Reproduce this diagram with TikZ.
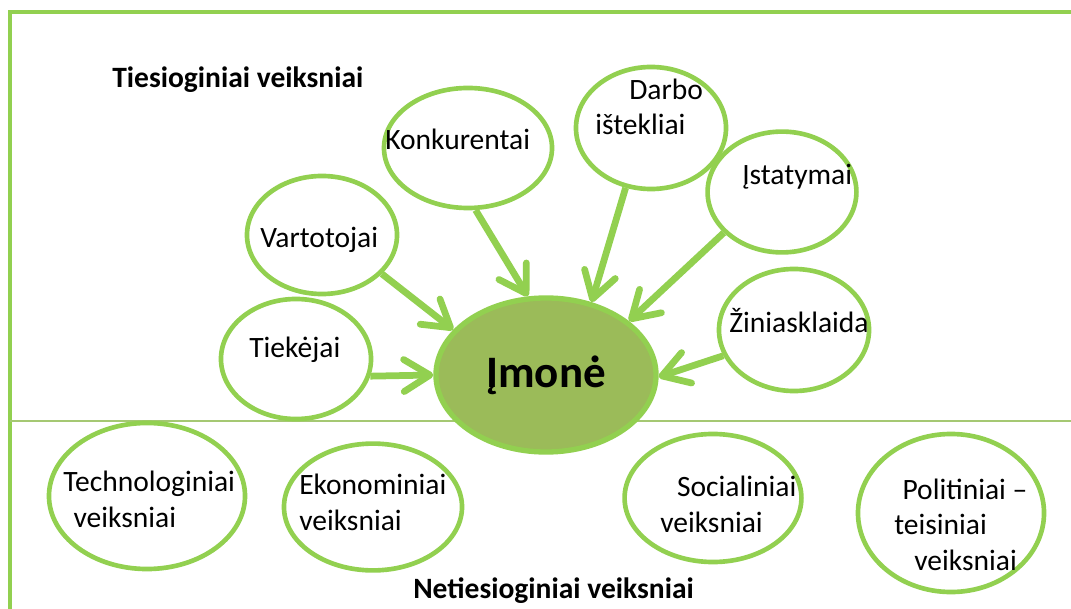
\documentclass[tikz,border=0pt]{standalone}
\usepackage{fontspec}
\setmainfont{Carlito}
\usetikzlibrary{arrows.meta,shapes.geometric}
\definecolor{ringGreen}{RGB}{146,208,80}
\definecolor{coreGreen}{RGB}{155,187,89}
\definecolor{splitGreen}{RGB}{165,200,115}

\begin{document}
\begin{tikzpicture}[
  x=0.025cm, y=-0.025cm,
  font=\fontsize{21}{25}\selectfont,
  frame/.style={draw=ringGreen, line width=2.8pt},
  split/.style={draw=splitGreen, line width=1.1pt},
  factor/.style={ellipse, draw=ringGreen, fill=white, line width=3.3pt, inner sep=0pt},
  core/.style={ellipse, draw=ringGreen, fill=coreGreen, line width=3.8pt, inner sep=0pt,
    minimum width=5.5cm, minimum height=3.85cm, font=\fontsize{32}{36}\selectfont\bfseries},
  lbl/.style={anchor=base west, align=left, inner sep=0pt},
  heading/.style={anchor=base west, inner sep=0pt, font=\fontsize{21}{25}\selectfont\bfseries},
  push/.style={draw=ringGreen, line width=4.8pt, -{Straight Barb[length=6.5mm, width=8mm, round]}}
]
\useasboundingbox (0,0) rectangle (1071,609);

% ------------------------------------------------------------------
% Frame and divider
% ------------------------------------------------------------------
\draw[frame] (10,609) -- (10,12) -- (1071,12);
\draw[split] (10,421) -- (1071,421);

% ------------------------------------------------------------------
% Direct factors
% ------------------------------------------------------------------
\node[heading] (hDirect) at (112,88) {Tiesioginiai veiksniai};

\node[factor, minimum width=3.75cm, minimum height=2.95cm] (vart) at (322,235) {};
\node[factor, minimum width=4.2cm, minimum height=3.0cm] (konk) at (468,148) {};
\node[factor, minimum width=3.75cm, minimum height=3.05cm] (darbo) at (651,128) {};
\node[factor, minimum width=3.72cm, minimum height=3.02cm] (istat) at (782,192) {};
\node[factor, minimum width=3.75cm, minimum height=3.05cm] (zinia) at (794,330) {};
\node[factor, minimum width=3.75cm, minimum height=3.0cm] (tiek) at (296,359) {};

\node[lbl] (tVart) at (260,248) {Vartotojai};
\node[lbl] (tKonk) at (385,150) {Konkurentai};
\node[lbl] (tDarbo) at (595,135) {\hspace*{1.15em}Darbo\\ištekliai};
\node[lbl] (tIstat) at (742,185) {Įstatymai};
\node[lbl] (tZinia) at (729,333) {Žiniasklaida};
\node[lbl] (tTiek) at (249,358) {Tiekėjai};

\node[core] (imone) at (546,375) {Įmonė};

\draw[push] (vart.-33) -- (imone.154);
\draw[push] (konk.-83) -- (imone.103);
\draw[push] (darbo.-113) -- (imone.58);
\draw[push] (istat.-145) -- (imone.33);
\draw[push] (zinia.-160) -- (imone.-1);
\draw[push] (tiek.-13) -- (imone.180);

% ------------------------------------------------------------------
% Indirect factors
% ------------------------------------------------------------------
\node[factor, minimum width=4.9cm, minimum height=3.65cm] (tech) at (147,496) {};
\node[factor, minimum width=4.45cm, minimum height=3.17cm] (ekon) at (373,507) {};
\node[factor, minimum width=4.42cm, minimum height=3.2cm] (soc) at (713,498) {};
\node[factor, minimum width=4.65cm, minimum height=3.95cm] (polit) at (951,513) {};

\node[lbl] (tTech) at (63,527) {Technologiniai\\\hspace*{0.35em}veiksniai};
\node[lbl] (tEkon) at (299,530) {Ekonominiai\\veiksniai};
\node[lbl] (tSoc) at (660,532) {\hspace*{0.57em}Socialiniai\\veiksniai};
\node[lbl] (tPolit) at (894,570) {\hspace*{0.28em}Politiniai –\\teisiniai\\\hspace*{0.68em}veiksniai};

\node[heading] (hIndirect) at (413,598) {Netiesioginiai veiksniai};

\end{tikzpicture}
\end{document}
